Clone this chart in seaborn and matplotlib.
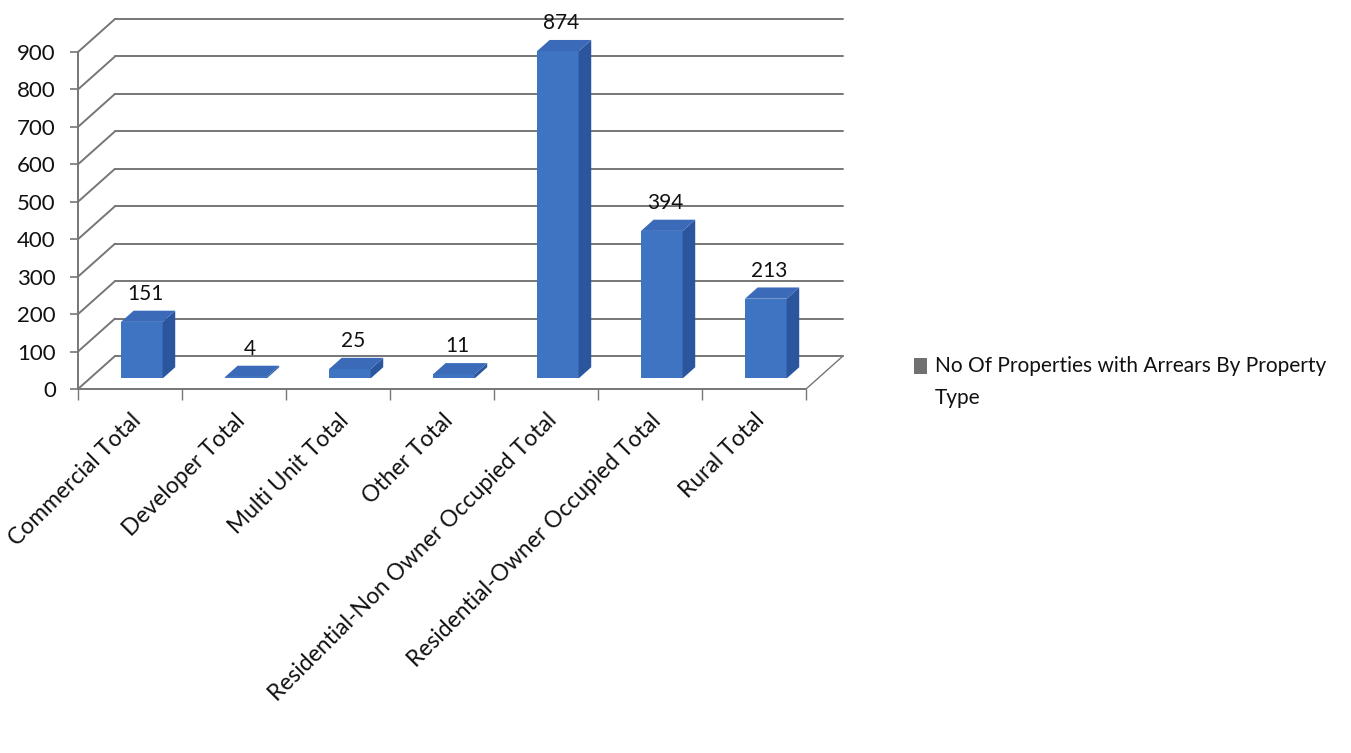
import numpy as np
import pandas as pd
import matplotlib
matplotlib.use("Agg")
import matplotlib.pyplot as plt
import seaborn as sns
from matplotlib.patches import Polygon, Patch

# ---- data ----
categories = ["Commercial Total", "Developer Total", "Multi Unit Total", "Other Total",
              "Residential-Non Owner Occupied Total", "Residential-Owner Occupied Total",
              "Rural Total"]
values = [151, 4, 25, 11, 874, 394, 213]
y_ticks = [0, 100, 200, 300, 400, 500, 600, 700, 800, 900]
series_name = "No Of Properties with Arrears By Property\nType"

sns.set_theme(style="white")
plt.rcParams["font.family"] = ["Lato", "DejaVu Sans"]

W, H = 1351, 753
DPI = 100
fig = plt.figure(figsize=(W / DPI, H / DPI), dpi=DPI)
fig.patch.set_facecolor("white")

# pixel geometry of the front plane
x_left_px, x_right_px = 78, 806
y_zero_px, y_900_px = 389, 52
px_per_x = (x_right_px - x_left_px) / len(categories)
px_per_y = (y_zero_px - y_900_px) / 900.0
ax_right_px, ax_top_px = 852, 10

ax = fig.add_axes([x_left_px / W, (H - y_zero_px) / H,
                   (ax_right_px - x_left_px) / W, (y_zero_px - ax_top_px) / H])

df = pd.DataFrame({"category": categories, "value": values})
front_col = "#3f74c2"
side_col = "#2b559c"
top_col = "#3a6ab8"
sns.barplot(data=df, x="category", y="value", ax=ax, width=0.4, color=front_col,
            saturation=1, zorder=3, edgecolor="none")

xmax = -0.5 + (ax_right_px - x_left_px) / px_per_x
ymax = (y_zero_px - ax_top_px) / px_per_y
ax.set_xlim(-0.5, xmax)
ax.set_ylim(0, ymax)

# depth offsets (data units)
DXB = 37 / px_per_x
DYB = 33 / px_per_y
bar_front = 0.32
bar_depth = 0.34
grid_col = "#767676"

# back wall + side wall gridlines
n = len(categories)
for v in y_ticks:
    ax.plot([-0.5, -0.5 + DXB], [v, v + DYB], color=grid_col, lw=1.4, zorder=1, clip_on=False)
    ax.plot([-0.5 + DXB, n - 0.5 + DXB], [v + DYB, v + DYB], color=grid_col, lw=1.4,
            zorder=1, clip_on=False)
ax.plot([n - 0.5, n - 0.5 + DXB], [0, DYB], color=grid_col, lw=1.0, zorder=1, clip_on=False)

# 3D bar faces derived from the seaborn bars
tx, ty = DXB * bar_depth, DYB * bar_depth
for p, val in zip(ax.patches, values):
    p.set_x(p.get_x() + DXB * bar_front)
    p.set_y(DYB * bar_front)
    x0, y0, w, h = p.get_x(), p.get_y(), p.get_width(), p.get_height()
    side = Polygon([(x0 + w, y0), (x0 + w + tx, y0 + ty), (x0 + w + tx, y0 + h + ty),
                    (x0 + w, y0 + h)], closed=True, facecolor=side_col, edgecolor="none",
                   zorder=3)
    top = Polygon([(x0, y0 + h), (x0 + w, y0 + h), (x0 + w + tx, y0 + h + ty),
                   (x0 + tx, y0 + h + ty)], closed=True, facecolor=top_col,
                  edgecolor="none", zorder=3)
    ax.add_patch(side)
    ax.add_patch(top)
    ax.annotate(f"{val}", xy=(x0 + w / 2 + tx * 0.3, y0 + h + ty), xytext=(0, 5),
                textcoords="offset points", ha="center", va="bottom", fontsize=15,
                color="#111111", zorder=5)

# axes styling
for s in ["top", "right"]:
    ax.spines[s].set_visible(False)
for s in ["left", "bottom"]:
    ax.spines[s].set_color(grid_col)
    ax.spines[s].set_linewidth(1.4)
    ax.spines[s].set_zorder(4)
ax.spines["left"].set_bounds(0, 900)
ax.spines["bottom"].set_bounds(-0.5, n - 0.5)

ax.set_yticks(y_ticks)
ax.set_yticklabels([str(t) for t in y_ticks])
ax.tick_params(axis="y", direction="out", length=6, width=1.2, color=grid_col,
               labelsize=16, labelcolor="#111111", pad=10, left=True)
ax.set_xticks(range(n))
ax.set_xticklabels(categories, rotation=45, ha="right", rotation_mode="anchor",
                   fontsize=16.5, color="#111111")
ax.tick_params(axis="x", length=0, pad=15)
ax.set_xticks(np.arange(-0.5, n, 1.0), minor=True)
ax.tick_params(axis="x", which="minor", direction="out", length=8, width=1.0,
               color=grid_col, bottom=True)
ax.set_xlabel("")
ax.set_ylabel("")
ax.grid(False)

leg_fs = 15
leg = fig.legend(handles=[Patch(facecolor="#707070", edgecolor="none")], labels=[series_name],
                 loc="upper left", bbox_to_anchor=(895 / W, 1 - 337 / H), frameon=False,
                 fontsize=leg_fs, handlelength=0.65, handleheight=0.8, handletextpad=0.35,
                 labelcolor="#111111")
leg_text = leg.get_texts()[0]
leg_text.set_linespacing(1.75)

# put the legend key next to the first line of its label
fig.canvas.draw()
tb = leg_text.get_window_extent()
handle = leg.legend_handles[0]
hb = handle.get_window_extent()
line_px = leg_fs * DPI / 72
target = tb.y1 - 0.5 * line_px
shift_pt = (target - (hb.y0 + hb.y1) / 2) * 72 / DPI
handle.set_y(handle.get_y() + shift_pt)

fig.savefig("out.png", dpi=DPI, facecolor="white")
